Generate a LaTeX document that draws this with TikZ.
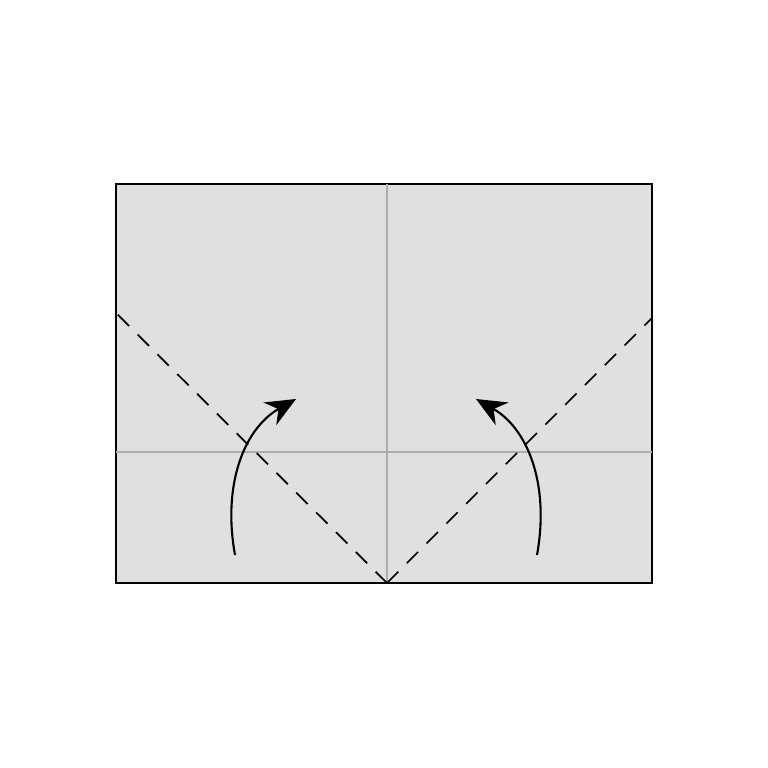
\documentclass[tikz,border=0pt]{standalone}
\usepackage{tikz}
\usetikzlibrary{arrows.meta}

\begin{document}
\begin{tikzpicture}[
    >={Stealth[length=3.0mm, width=2.6mm]},
    paper/.style  = {draw=black, line width=0.5pt, fill=black!12},
    crease/.style = {draw=black!32, line width=0.5pt},
    valley/.style = {draw=black, line width=0.5pt, dash pattern=on 1.6mm off 1.2mm},
    fold/.style   = {->, draw=black, line width=0.6pt}
  ]
  \useasboundingbox (0,0) rectangle (7.68,7.68);

  % --- corners and reference points ---
  \coordinate (SW) at (1.16,1.85);
  \coordinate (NE) at (6.52,5.84);
  \coordinate (B)  at (3.87,1.85);
  \coordinate (T)  at (3.87,5.84);
  \coordinate (L)  at (1.16,3.16);
  \coordinate (R)  at (6.52,3.16);
  \coordinate (LD) at (1.16,4.55);
  \coordinate (RD) at (6.52,4.50);

  % --- sheet ---
  \draw[paper] (SW) rectangle (NE);

  % --- existing creases ---
  \draw[crease] (B) -- (T);
  \draw[crease] (L) -- (R);

  % --- valley folds ---
  \draw[valley] (B) -- (LD);
  \draw[valley] (B) -- (RD);

  % --- fold arrows ---
  \coordinate (a1) at (2.35,2.13);
  \coordinate (a2) at (2.96,3.69);
  \coordinate (b1) at (5.37,2.13);
  \coordinate (b2) at (4.76,3.69);
  \draw[fold] (a1) .. controls (2.22,2.85) and (2.45,3.40) .. (a2);
  \draw[fold] (b1) .. controls (5.50,2.85) and (5.27,3.40) .. (b2);

\end{tikzpicture}
\end{document}
